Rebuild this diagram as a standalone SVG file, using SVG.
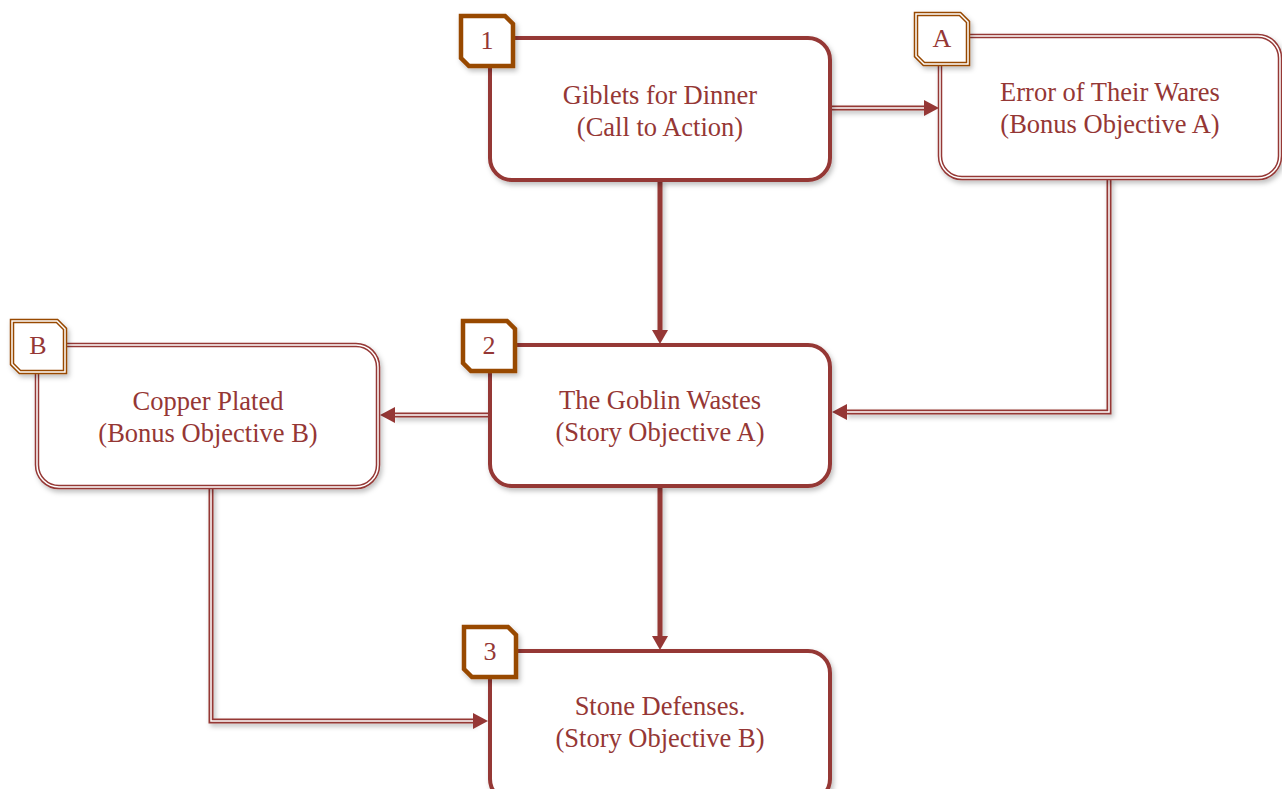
<svg xmlns="http://www.w3.org/2000/svg" width="1282" height="789" viewBox="0 0 1282 789">
<defs>
<filter id="sh" x="-10%" y="-10%" width="130%" height="130%">
<feDropShadow dx="2" dy="3" stdDeviation="2.5" flood-color="#000" flood-opacity="0.25"/>
</filter>
</defs>
<style>
.story{fill:#fff;stroke:#953735;stroke-width:4}
.bonus{fill:#fff;stroke:#953735;stroke-width:4.5}
.inner{fill:none;stroke:#fff;stroke-width:1.5}
.badge{fill:#fff;stroke:#984806;stroke-width:4.5}
.t{font-family:"Liberation Serif","DejaVu Serif",serif;font-size:26.5px;fill:#953735;text-anchor:middle}
.bt{font-family:"Liberation Serif","DejaVu Serif",serif;font-size:26px;fill:#953735;text-anchor:middle}
.thick{fill:none;stroke:#953735;stroke-width:5}
.dbl{fill:none;stroke:#953735;stroke-width:5}
.dblin{fill:none;stroke:#fff;stroke-width:1.5}
.ah{fill:#953735}
</style>
<g id="connectors">
<g filter="url(#sh)">
<path class="thick" d="M660,180 V330"/>
<path class="thick" d="M660,486 V636"/>
<path class="dbl" d="M830,108 H926"/>
<path class="dbl" d="M1109,178 V412 H845"/>
<path class="dbl" d="M490,415 H393"/>
<path class="dbl" d="M211,487 V721 H475"/>
</g>
<path class="dblin" d="M830,108 H924"/>
<path class="dblin" d="M1109,178 V412 H847"/>
<path class="dblin" d="M490,415 H395"/>
<path class="dblin" d="M211,487 V721 H473"/>
<path class="ah" d="M652,330 L668,330 L660,344 Z"/>
<path class="ah" d="M652,636 L668,636 L660,650 Z"/>
<path class="ah" d="M924,100 L924,116 L939,108 Z"/>
<path class="ah" d="M847,404 L847,420 L832,412 Z"/>
<path class="ah" d="M395,407 L395,423 L380,415 Z"/>
<path class="ah" d="M473,713 L473,729 L488,721 Z"/>
</g>
<g id="node1">
<rect class="story" x="490" y="38" width="340" height="142" rx="22" filter="url(#sh)"/>
<text class="t" x="660" y="104">Giblets for Dinner</text>
<text class="t" x="660" y="136">(Call to Action)</text>
</g>
<g id="nodeA">
<rect class="bonus" x="940" y="36" width="340" height="142" rx="22" filter="url(#sh)"/>
<rect class="inner" x="940" y="36" width="340" height="142" rx="22"/>
<text class="t" x="1110" y="101">Error of Their Wares</text>
<text class="t" x="1110" y="133">(Bonus Objective A)</text>
</g>
<g id="node2">
<rect class="story" x="490" y="345" width="340" height="141" rx="22" filter="url(#sh)"/>
<text class="t" x="660" y="409">The Goblin Wastes</text>
<text class="t" x="660" y="441">(Story Objective A)</text>
</g>
<g id="nodeB">
<rect class="bonus" x="37" y="345" width="341" height="142" rx="22" filter="url(#sh)"/>
<rect class="inner" x="37" y="345" width="341" height="142" rx="22"/>
<text class="t" x="208" y="410">Copper Plated</text>
<text class="t" x="208" y="442">(Bonus Objective B)</text>
</g>
<g id="node3">
<rect class="story" x="490" y="651" width="340" height="150" rx="22" filter="url(#sh)"/>
<text class="t" x="660" y="715">Stone Defenses.</text>
<text class="t" x="660" y="747">(Story Objective B)</text>
</g>
<g id="badge1">
<path class="badge" d="M461,16 H505 L513,24 V66 H469 L461,58 Z" filter="url(#sh)"/>
<text class="bt" x="487" y="49">1</text>
</g>
<g id="badgeA">
<path class="badge" d="M916,14 H960 L968,22 V64 H924 L916,56 Z" filter="url(#sh)"/>
<path class="inner" d="M916,14 H960 L968,22 V64 H924 L916,56 Z"/>
<text class="bt" x="942" y="47">A</text>
</g>
<g id="badgeB">
<path class="badge" d="M12,321 H57 L65,329 V372 H20 L12,364 Z" filter="url(#sh)"/>
<path class="inner" d="M12,321 H57 L65,329 V372 H20 L12,364 Z"/>
<text class="bt" x="38" y="354">B</text>
</g>
<g id="badge2">
<path class="badge" d="M463,321 H507 L515,329 V371 H471 L463,363 Z" filter="url(#sh)"/>
<text class="bt" x="489" y="354">2</text>
</g>
<g id="badge3">
<path class="badge" d="M464,627 H508 L516,635 V677 H472 L464,669 Z" filter="url(#sh)"/>
<text class="bt" x="490" y="660">3</text>
</g>
</svg>
